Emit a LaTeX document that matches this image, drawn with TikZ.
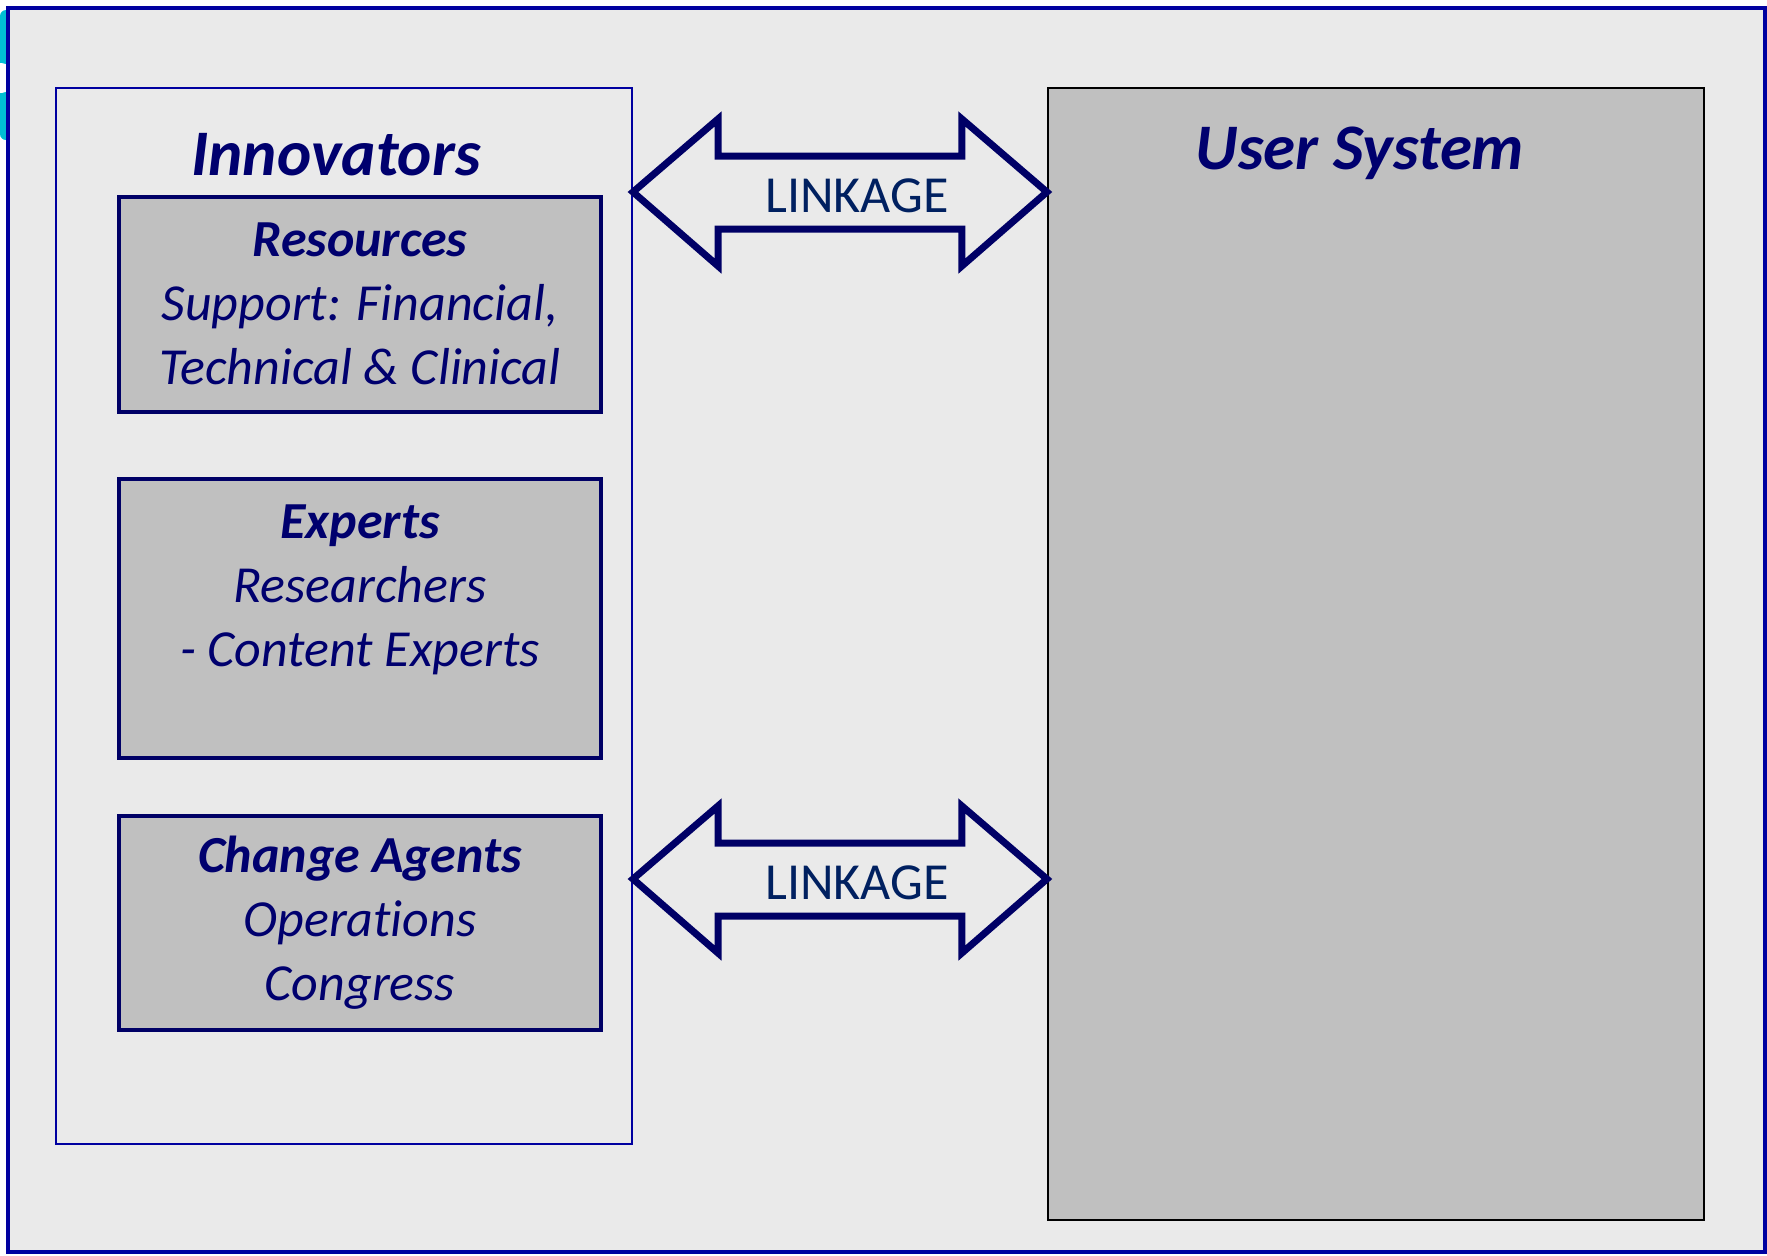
\documentclass[tikz,border=0pt]{standalone}
\usepackage{fontspec}
\setmainfont{Carlito}[Ligatures={NoCommon}]
\usetikzlibrary{calc}

\definecolor{framebl}{RGB}{0,0,160}
\definecolor{navyline}{RGB}{0,0,102}
\definecolor{navytext}{RGB}{0,0,110}
\definecolor{linktext}{RGB}{0,32,96}
\definecolor{bggray}{RGB}{234,234,234}
\definecolor{boxgray}{RGB}{192,192,192}
\definecolor{logocyan}{RGB}{0,190,212}

\tikzset{
  partbox/.style={draw=navyline, line width=2pt, fill=boxgray, rectangle,
    minimum width=241pt, text=navytext, align=center,
    font=\fontsize{26}{32}\selectfont\itshape},
  headline/.style={text=navytext, font=\fontsize{32.5}{38}\selectfont\bfseries\itshape},
  linkarrow/.style={draw=navyline, line width=3.5pt, line join=miter},
  linklabel/.style={text=linktext, font=\fontsize{26}{32}\selectfont}
}

\begin{document}
\begin{tikzpicture}[x=0.5pt, y=-0.5pt]
        \useasboundingbox (0,0) rectangle (1767,1255);
        % cut-off logo at the left edge
        \fill[logocyan, rounded corners=3pt] (0,10) rectangle (12,140);
        \fill[white] (0,78) circle (15);
        % slide frame
        \draw[draw=framebl, fill=bggray, line width=2.2pt] (8,8) rectangle (1765,1252);

        \node (inno) [draw=framebl, line width=1pt, rectangle, minimum width=288pt, minimum height=528pt] at (344,616) {};
        \node (user) [draw=black, fill=boxgray, line width=1.1pt, rectangle, minimum width=328pt, minimum height=566pt] at (1376,654) {};

        \node (innotitle) [headline] at (336,155) {Innovators};
        \node (usertitle) [headline] at (1360,153) {User System};

        \node (resources) [partbox, minimum height=107.5pt] at (360,304) {\textbf{Resources}\\Support: Financial,\\Technical \& Clinical};
        \node (experts) [partbox, minimum height=139.5pt] at (360,618) {\textbf{Experts}\\Researchers\\- Content Experts\\\mbox{}};
        \node (agents) [partbox, minimum height=107pt] at (360,923) {\textbf{Change Agents}\\Operations\\Congress};

        \draw[linkarrow] (inno.east |- 0,192) -- ++(85,-73) -- ++(0,37) -- ($(user.west |- 0,156)+(-85,0)$) -- ++(0,-37) -- (user.west |- 0,192) -- ++(-85,74) -- ++(0,-37) -- ($(inno.east |- 0,229)+(85,0)$) -- ++(0,37) -- cycle;
        \draw[linkarrow] (inno.east |- 0,879) -- ++(85,-73) -- ++(0,37) -- ($(user.west |- 0,843)+(-85,0)$) -- ++(0,-37) -- (user.west |- 0,879) -- ++(-85,74) -- ++(0,-37) -- ($(inno.east |- 0,916)+(85,0)$) -- ++(0,37) -- cycle;

        \node (link1) [linklabel] at (857,196) {LINKAGE};
        \node (link2) [linklabel] at (857,883) {LINKAGE};
    \end{tikzpicture}
\end{document}
